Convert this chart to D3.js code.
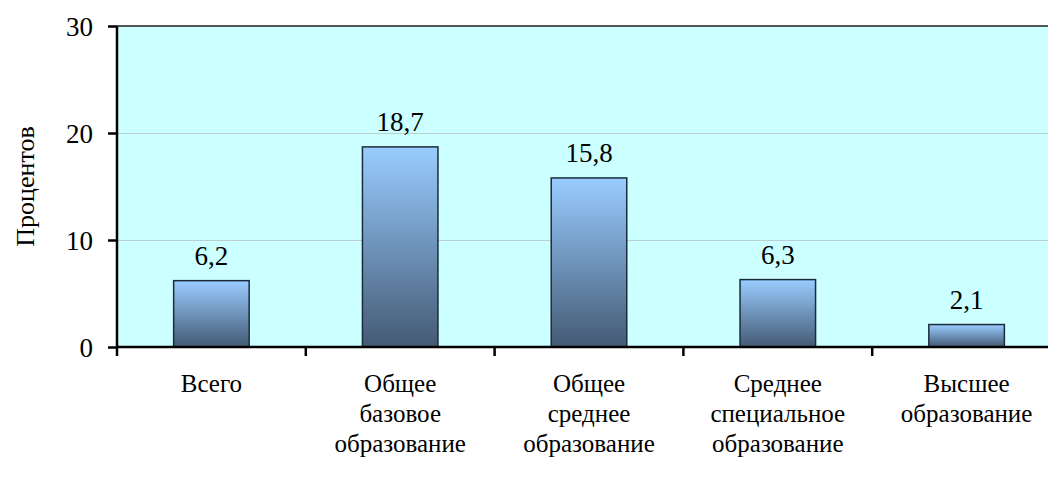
<!DOCTYPE html>
<html>
<head>
<meta charset="utf-8">
<script src="https://cdn.jsdelivr.net/npm/d3@7"></script>
<style>
  body { margin: 0; background: #fff; }
  svg { display: block; }
</style>
</head>
<body>
<svg width="1048" height="480"></svg>
<script>
/*
Chart data
*/
var categories = ["Всего", "Общее базовое образование", "Общее среднее образование",
                  "Среднее специальное образование", "Высшее образование"];
var categoryLines = [["Всего"], ["Общее", "базовое", "образование"], ["Общее", "среднее", "образование"],
                     ["Среднее", "специальное", "образование"], ["Высшее", "образование"]];
var values = [6.2, 18.7, 15.8, 6.3, 2.1];
var valueLabels = ["6,2", "18,7", "15,8", "6,3", "2,1"];
var yTicks = [0, 10, 20, 30];

var FONT = "'Liberation Serif', 'Times New Roman', serif";

/*
Margins / scales
*/
var svg = d3.select("svg"),
    margin = {top: 26, right: -13, bottom: 133, left: 117},
    width = 1048 - margin.left - margin.right,
    height = 480 - margin.top - margin.bottom,
    g = svg.append("g").attr("transform", "translate(" + margin.left + "," + margin.top + ")");

var xScale = d3.scaleBand().domain(categories).range([0, width]).paddingInner(0.6).paddingOuter(0.3),
    yScale = d3.scaleLinear().domain([0, 30]).range([height, 0]);

var grad = svg.append("defs").append("linearGradient")
    .attr("id", "barGrad")
    .attr("x1", 0).attr("y1", 0).attr("x2", 0).attr("y2", 1);
grad.append("stop").attr("offset", "0%").attr("stop-color", "#99ccff");
grad.append("stop").attr("offset", "100%").attr("stop-color", "#445a74");

// plot background
g.append("rect")
    .attr("width", width)
    .attr("height", height)
    .attr("fill", "#ccffff");

// gridlines
g.append("g")
    .attr("class", "grid")
    .call(d3.axisLeft(yScale).tickValues([10, 20]).tickSize(-width).tickFormat(""))
    .call(function(s) {
        s.select(".domain").remove();
        s.selectAll("line").attr("stroke", "#b9cfd2").attr("stroke-width", 1);
    });

// top border
g.append("line")
    .attr("x1", 0).attr("x2", width)
    .attr("y1", 0).attr("y2", 0)
    .attr("stroke", "#555").attr("stroke-width", 2);

// bars
g.selectAll(".bar")
    .data(values)
    .enter().append("rect")
    .attr("class", "bar")
    .attr("x", function(d, i) { return xScale(categories[i]); })
    .attr("y", function(d) { return yScale(d); })
    .attr("width", xScale.bandwidth())
    .attr("height", function(d) { return height - yScale(d); })
    .attr("fill", "url(#barGrad)")
    .attr("stroke", "#1c2b3c")
    .attr("stroke-width", 1.5);

// value labels
g.selectAll(".valLabel")
    .data(values)
    .enter().append("text")
    .attr("class", "valLabel")
    .attr("x", function(d, i) { return xScale(categories[i]) + xScale.bandwidth() / 2; })
    .attr("y", function(d) { return yScale(d) - 16; })
    .attr("text-anchor", "middle")
    .style("font-family", FONT)
    .style("font-size", "27px")
    .text(function(d, i) { return valueLabels[i]; });

// y axis
var yAxis = g.append("g")
    .call(d3.axisLeft(yScale).tickValues(yTicks).tickSize(9).tickPadding(15));
yAxis.select(".domain").attr("stroke", "#000").attr("stroke-width", 2.5).attr("d", "M0," + height + "V0");
yAxis.selectAll("line").attr("stroke", "#000").attr("stroke-width", 2.5);
yAxis.selectAll("text")
    .style("font-family", FONT)
    .style("font-size", "27px")
    .attr("dy", "0.35em");

// x axis with boundary ticks
var step = xScale.step();
var xAxis = g.append("g").attr("transform", "translate(0," + height + ")");
xAxis.append("line")
    .attr("x1", 0).attr("x2", width)
    .attr("stroke", "#000").attr("stroke-width", 2.5);
xAxis.selectAll(".xtick")
    .data(d3.range(categories.length + 1))
    .enter().append("line")
    .attr("class", "xtick")
    .attr("x1", function(i) { return i * step; })
    .attr("x2", function(i) { return i * step; })
    .attr("y1", 0).attr("y2", 9)
    .attr("stroke", "#000").attr("stroke-width", 2.5);

var catText = xAxis.selectAll(".cat")
    .data(categories)
    .enter().append("text")
    .attr("class", "cat")
    .attr("text-anchor", "middle")
    .attr("transform", function(d) { return "translate(" + (xScale(d) + xScale.bandwidth() / 2) + ",45)"; })
    .style("font-family", FONT)
    .style("font-size", "25px");
catText.each(function(d, i) {
    var t = d3.select(this);
    categoryLines[i].forEach(function(line, j) {
        t.append("tspan").attr("x", 0).attr("y", j * 30).text(line);
    });
});

// y title
svg.append("text")
    .attr("transform", "translate(34," + (margin.top + height / 2) + ")rotate(-90)")
    .attr("text-anchor", "middle")
    .style("font-family", FONT)
    .style("font-size", "26px")
    .text("Процентов");
</script>
</body>
</html>
